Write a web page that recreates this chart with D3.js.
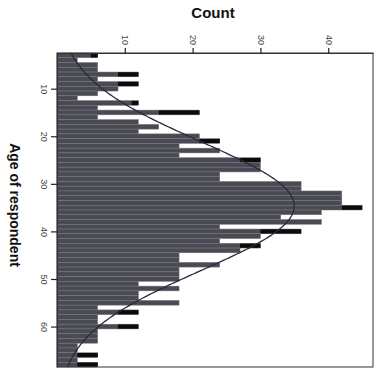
<!DOCTYPE html>
<html>
<head>
<meta charset="utf-8">
<script src="https://cdn.jsdelivr.net/npm/d3@7"></script>
<style>
  html, body { margin: 0; padding: 0; background: #fff; }
  svg { display: block; }
</style>
</head>
<body>
<svg id="chart" width="391" height="376"></svg>
<script>
// ---- data ----
const ages = [3,4,5,6,7,8,9,10,11,12,13,14,15,16,17,18,19,20,21,22,23,24,25,26,27,28,29,30,31,32,33,34,35,36,37,38,39,40,41,42,43,44,45,46,47,48,49,50,51,52,53,54,55,56,57,58,59,60,61,62,63,64,65,66,67,68];
const counts = [6,3,6,6,12,6,12,9,6,3,12,6,21,6,12,15,12,21,24,18,24,18,30,30,30,24,24,36,36,42,42,42,45,39,33,39,24,36,30,24,30,27,18,18,24,18,18,18,12,18,12,12,18,6,12,6,6,12,6,6,6,3,3,6,3,6];
// count at which the dark (black) end of a bar starts, 0 = none
const darkFrom = [5,0,0,0,9,0,9,0,0,0,11,0,15,0,0,0,0,0,21,0,0,0,27,0,0,0,0,0,0,0,0,0,42,0,0,0,0,30,0,0,27,0,0,0,0,0,0,0,0,0,0,0,0,0,9,0,0,9,0,0,0,0,0,3,0,3];
const countTicks = [10, 20, 30, 40];
const ageTicks = [10, 20, 30, 40, 50, 60];
const xTitle = "Count";
const yTitle = "Age of respondent";

// ---- layout ----
const svg = d3.select("#chart");
const mLeft = 57, mRight = 373, mTop = 53, mBottom = 367;

const x = d3.scaleLinear().domain([0, 46.6]).range([mLeft, mRight]);
const y = d3.scaleLinear().domain([2.5, 68.5]).range([mTop, mBottom]);

const data = ages.map((a, i) => ({age: a, count: counts[i], dark: darkFrom[i]}));

// bars
svg.append("g").selectAll("rect").data(data).join("rect")
  .attr("x", x(0))
  .attr("y", d => y(d.age - 0.5))
  .attr("width", d => x(d.count) - x(0))
  .attr("height", d => y(d.age + 0.5) - y(d.age - 0.5))
  .attr("fill", "#4a4a53")
  .attr("stroke", "#777780")
  .attr("stroke-width", 0.5);

// dark bar ends
svg.append("g").selectAll("rect").data(data.filter(d => d.dark > 0)).join("rect")
  .attr("x", d => x(d.dark))
  .attr("y", d => y(d.age - 0.5) + 0.3)
  .attr("width", d => x(d.count) - x(d.dark))
  .attr("height", d => y(d.age + 0.5) - y(d.age - 0.5) - 0.6)
  .attr("fill", "#0b0b0b");

// normal curve from the histogram's mean / sd
const N = d3.sum(counts);
const mean = d3.sum(data, d => d.age * d.count) / N;
const sd = Math.sqrt(d3.sum(data, d => d.count * (d.age - mean) ** 2) / N);
const curveAges = d3.range(2.5, 68.51, 0.25);
const curvePts = curveAges.map(a => [a, N / (sd * Math.sqrt(2 * Math.PI)) * Math.exp(-((a - mean) ** 2) / (2 * sd * sd))]);
svg.append("path")
  .datum(curvePts)
  .attr("fill", "none")
  .attr("stroke", "#2a2a3a")
  .attr("stroke-width", 1.3)
  .attr("d", d3.line().x(d => x(d[1])).y(d => y(d[0])).curve(d3.curveBasis));

// frame
svg.append("rect")
  .attr("x", mLeft).attr("y", mTop)
  .attr("width", mRight - mLeft).attr("height", mBottom - mTop)
  .attr("fill", "none").attr("stroke", "#333").attr("stroke-width", 1);

// top axis (counts)
const gx = svg.append("g").attr("transform", `translate(0,${mTop})`)
  .call(d3.axisTop(x).tickValues(countTicks).tickSize(5).tickSizeOuter(0));
gx.select(".domain").attr("stroke", "#333");
gx.selectAll(".tick line").attr("stroke", "#222").attr("stroke-width", 1.2);
gx.selectAll(".tick text")
  .attr("x", 0).attr("y", 0).attr("dy", "0.35em")
  .attr("transform", "translate(0,-13) rotate(90)")
  .attr("text-anchor", "middle")
  .attr("font-family", "Liberation Sans, Arial, sans-serif")
  .attr("font-size", 9)
  .attr("fill", "#444");

// left axis (ages)
const gy = svg.append("g").attr("transform", `translate(${mLeft},0)`)
  .call(d3.axisLeft(y).tickValues(ageTicks).tickSize(6).tickSizeOuter(0));
gy.select(".domain").attr("stroke", "#333");
gy.selectAll(".tick line").attr("stroke", "#222").attr("stroke-width", 1.2);
gy.selectAll(".tick text")
  .attr("x", 0).attr("y", 0).attr("dy", "0.35em")
  .attr("transform", "translate(-13,0) rotate(90)")
  .attr("text-anchor", "middle")
  .attr("font-family", "Liberation Sans, Arial, sans-serif")
  .attr("font-size", 9)
  .attr("fill", "#444");

// titles
svg.append("text")
  .attr("x", 213).attr("y", 18)
  .attr("text-anchor", "middle")
  .attr("font-family", "Liberation Sans, Arial, sans-serif")
  .attr("font-weight", "bold")
  .attr("font-size", 15)
  .attr("fill", "#111")
  .text(xTitle);

svg.append("text")
  .attr("transform", "translate(15,205) rotate(90)")
  .attr("dy", "0.35em")
  .attr("text-anchor", "middle")
  .attr("font-family", "Liberation Sans, Arial, sans-serif")
  .attr("font-weight", "bold")
  .attr("font-size", 14)
  .attr("fill", "#111")
  .text(yTitle);
</script>
</body>
</html>
